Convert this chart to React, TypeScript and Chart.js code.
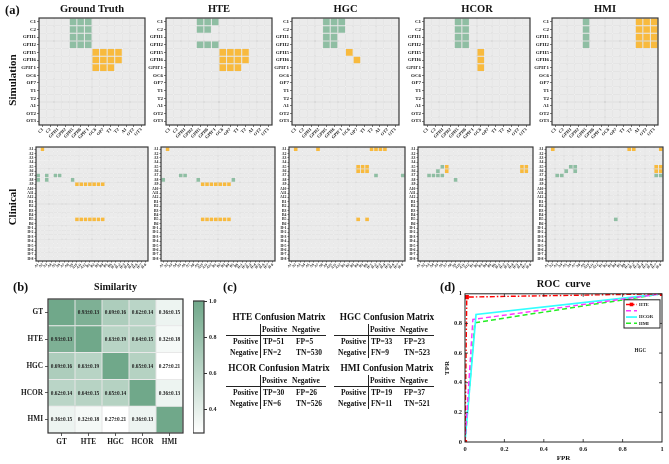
import React, { useEffect, useRef } from 'react';
import { Chart, registerables } from 'chart.js';

Chart.register(...registerables);

const SERIF = "'Liberation Serif', 'Times New Roman', Times, serif";
Chart.defaults.font.family = SERIF;
(Chart.defaults.font as any).weight = 'bold';
Chart.defaults.color = '#1a1a1a';

// ---------------- data ----------------
const HEAT_TITLES = ['Ground Truth', 'HTE', 'HGC', 'HCOR', 'HMI'];

const SIM_AXIS = ['C1', 'C2', 'GPH1', 'GPH2', 'GPH5', 'GPH6', "GPH'1", 'OC6', 'OP7', 'T1', 'T2', 'A1', 'OT2', 'OT3'];
const CLIN_AXIS = [
  'A1', 'A2', 'A3', 'A4', 'A5', 'A6', 'A7', 'A8', 'A9', 'A10', 'A11', 'A12',
  'B1', 'B2', 'B3', 'B4', 'B5', 'B6',
  'H-1', 'H-2', 'H-3', 'H-4', 'H-5', 'H-6', 'H-7', 'H-8',
];

// runs of marked cells: [row, firstCol, lastCol, kind]  (g = green edge, o = orange edge)
const SIM_GT_RUNS = [[0, 4, 6, 'g'], [1, 4, 6, 'g'], [2, 4, 6, 'g'], [3, 4, 6, 'g'], [4, 7, 10, 'o'], [5, 7, 10, 'o'], [6, 7, 9, 'o']];
const SIM_HTE_RUNS = [[0, 4, 6, 'g'], [1, 4, 5, 'g'], [3, 4, 6, 'g'], [4, 7, 10, 'o'], [5, 7, 10, 'o'], [6, 7, 9, 'o']];
const SIM_HGC_RUNS = [[0, 4, 6, 'g'], [1, 4, 6, 'g'], [2, 4, 5, 'g'], [3, 4, 5, 'g'], [4, 7, 7, 'o'], [5, 8, 8, 'o']];
const SIM_HCOR_RUNS = [[0, 4, 5, 'g'], [1, 4, 5, 'g'], [2, 4, 5, 'g'], [3, 4, 5, 'g'], [4, 7, 7, 'o'], [5, 7, 7, 'o'], [6, 7, 7, 'o']];
const SIM_HMI_RUNS = [[0, 4, 4, 'g'], [1, 4, 4, 'g'], [2, 4, 4, 'g'], [3, 4, 4, 'g'], [0, 11, 13, 'o'], [1, 11, 13, 'o'], [2, 11, 13, 'o'], [3, 11, 13, 'o']];

const CLIN_GT_RUNS = [[0, 1, 1, 'o'], [6, 0, 0, 'g'], [7, 0, 0, 'g'], [6, 2, 2, 'g'], [7, 2, 2, 'g'], [6, 4, 5, 'g'], [7, 8, 8, 'g'], [8, 9, 15, 'o'], [16, 9, 15, 'o']];
const CLIN_HTE_RUNS = [[0, 1, 1, 'o'], [6, 4, 5, 'g'], [7, 0, 0, 'g'], [7, 8, 8, 'g'], [7, 16, 16, 'g'], [8, 9, 15, 'o'], [16, 9, 15, 'o']];
const CLIN_HGC_RUNS = [[0, 1, 1, 'o'], [0, 6, 6, 'o'], [0, 18, 21, 'o'], [4, 15, 17, 'o'], [5, 15, 17, 'o'], [6, 19, 19, 'g'], [6, 25, 25, 'g'], [16, 15, 15, 'o'], [16, 17, 17, 'o']];
const CLIN_HCOR_RUNS = [[4, 5, 5, 'g'], [4, 6, 6, 'o'], [5, 4, 4, 'g'], [5, 6, 6, 'o'], [6, 2, 5, 'g'], [7, 8, 8, 'g'], [4, 23, 24, 'o'], [5, 23, 24, 'o']];
const CLIN_HMI_RUNS = [[0, 1, 1, 'o'], [0, 18, 19, 'o'], [0, 25, 25, 'o'], [4, 5, 6, 'g'], [5, 4, 4, 'g'], [5, 6, 6, 'g'], [6, 2, 3, 'g'], [4, 24, 25, 'o'], [5, 24, 25, 'o'], [6, 24, 25, 'g'], [16, 15, 15, 'g']];

const SIM_RUNS = [SIM_GT_RUNS, SIM_HTE_RUNS, SIM_HGC_RUNS, SIM_HCOR_RUNS, SIM_HMI_RUNS];
const CLIN_RUNS = [CLIN_GT_RUNS, CLIN_HTE_RUNS, CLIN_HGC_RUNS, CLIN_HCOR_RUNS, CLIN_HMI_RUNS];

const SIM_NAMES = ['GT', 'HTE', 'HGC', 'HCOR', 'HMI'];
const SIM_MEAN = [
  [1.0, 0.93, 0.69, 0.62, 0.36],
  [0.93, 1.0, 0.63, 0.64, 0.32],
  [0.69, 0.63, 1.0, 0.65, 0.27],
  [0.62, 0.64, 0.65, 1.0, 0.36],
  [0.36, 0.32, 0.27, 0.36, 1.0],
];
const SIM_STD = [
  [0, 0.13, 0.16, 0.14, 0.15],
  [0.13, 0, 0.19, 0.15, 0.18],
  [0.16, 0.19, 0, 0.14, 0.21],
  [0.14, 0.15, 0.14, 0, 0.13],
  [0.15, 0.18, 0.21, 0.13, 0],
];
const CB_MIN = 0.27;
const CB_MAX = 1.0;
const CB_TICKS = [0.4, 0.6, 0.8, 1.0];

const CM_NAMES = ['HTE', 'HGC', 'HCOR', 'HMI'];
const CM_TP = [51, 33, 30, 19];
const CM_FP = [5, 23, 26, 37];
const CM_FN = [2, 9, 6, 11];
const CM_TN = [530, 523, 526, 521];

const ROC_LABELS = ['HTE', 'HGC', 'HCOR', 'HMI'];
const ROC_HTE_FPR = [0, 0.009, 1];
const ROC_HTE_TPR = [0, 0.978, 1];
const ROC_HGC_FPR = [0, 0.04, 1];
const ROC_HGC_TPR = [0, 0.827, 1];
const ROC_HCOR_FPR = [0, 0.056, 1];
const ROC_HCOR_TPR = [0, 0.861, 1];
const ROC_HMI_FPR = [0, 0.05, 1];
const ROC_HMI_TPR = [0, 0.805, 1];
const ROC_TICKS = [0, 0.2, 0.4, 0.6, 0.8, 1];

// ---------------- styling helpers ----------------
const CELL_FILL: Record<string, string> = { '.': '#ebebeb', g: '#8fbea3', o: '#f8ba3e' };
const CELL_LINE = '#c2c2c2';

function simColor(v: number) {
  const t = Math.max(0, Math.min(1, (v - CB_MIN) / (CB_MAX - CB_MIN)));
  const lo = [255, 255, 255];
  const hi = [112, 168, 138];
  const c = lo.map((l, i) => Math.round(l + (hi[i] - l) * t));
  return `rgb(${c[0]},${c[1]},${c[2]})`;
}

function expandRuns(runs: any[], n: number): string[][] {
  const g = Array.from({ length: n }, () => Array(n).fill('.'));
  runs.forEach(([r, c0, c1, k]: any) => {
    for (let c = c0; c <= c1; c++) g[r][c] = k;
  });
  return g;
}

function zeroPad(s: any) {
  s.paddingLeft = 0;
  s.paddingRight = 0;
  s.paddingTop = 0;
  s.paddingBottom = 0;
}

const framePlugin = {
  id: 'frame',
  afterDatasetsDraw(chart: any, _a: any, opts: any) {
    if (!opts || !opts.color) return;
    const { ctx, chartArea: a } = chart;
    ctx.save();
    ctx.strokeStyle = opts.color;
    ctx.lineWidth = opts.width || 1;
    ctx.setLineDash([]);
    ctx.strokeRect(a.left, a.top, a.right - a.left, a.bottom - a.top);
    if (opts.innerTicks) {
      const L = opts.innerTicks;
      ctx.lineWidth = 0.8;
      ctx.beginPath();
      const xs = chart.scales.x;
      const ys = chart.scales.y;
      xs.ticks.forEach((t: any) => {
        const p = xs.getPixelForValue(t.value);
        if (p <= a.left + 1 || p >= a.right - 1) return;
        ctx.moveTo(p, a.bottom);
        ctx.lineTo(p, a.bottom - L);
        ctx.moveTo(p, a.top);
        ctx.lineTo(p, a.top + L);
      });
      ys.ticks.forEach((t: any) => {
        const p = ys.getPixelForValue(t.value);
        if (p <= a.top + 1 || p >= a.bottom - 1) return;
        ctx.moveTo(a.left, p);
        ctx.lineTo(a.left + L, p);
        ctx.moveTo(a.right, p);
        ctx.lineTo(a.right - L, p);
      });
      ctx.stroke();
    }
    ctx.restore();
  },
};

const cellTextPlugin = {
  id: 'cellText',
  afterDatasetsDraw(chart: any, _a: any, opts: any) {
    if (!opts || !opts.texts) return;
    const ctx = chart.ctx;
    ctx.save();
    ctx.font = `bold ${opts.size}px ${SERIF}`;
    ctx.fillStyle = opts.color || '#222';
    ctx.textAlign = 'center';
    ctx.textBaseline = 'middle';
    chart.data.datasets.forEach((_d: any, di: number) => {
      const meta = chart.getDatasetMeta(di);
      meta.data.forEach((el: any, i: number) => {
        const t = opts.texts[di][i];
        if (t) ctx.fillText(t, el.x, (el.y + el.base) / 2 + 0.5);
      });
    });
    ctx.restore();
  },
};

const rocLegendPlugin = {
  id: 'rocLegend',
  afterDraw(chart: any, _a: any, opts: any) {
    if (!opts) return;
    const { ctx, chartArea: a } = chart;
    const ds = chart.data.datasets;
    const x0 = a.right - opts.width - opts.right;
    const y0 = a.top + opts.top;
    const h = opts.rowH * ds.length + opts.pad * 2;
    ctx.save();
    ctx.fillStyle = '#fff';
    ctx.fillRect(x0, y0, opts.width, h);
    ctx.strokeStyle = '#222';
    ctx.lineWidth = 1;
    ctx.strokeRect(x0, y0, opts.width, h);
    ctx.font = `bold ${opts.fontSize}px ${SERIF}`;
    ctx.textBaseline = 'middle';
    ds.forEach((d: any, i: number) => {
      const y = y0 + opts.pad + opts.rowH * (i + 0.5);
      ctx.strokeStyle = d.borderColor;
      ctx.lineWidth = d.borderWidth;
      ctx.setLineDash(d.borderDash || []);
      ctx.beginPath();
      ctx.moveTo(x0 + 2, y);
      ctx.lineTo(x0 + 13, y);
      ctx.stroke();
      ctx.setLineDash([]);
      if (d.pointRadius > 0) {
        ctx.fillStyle = d.pointBackgroundColor;
        ctx.fillRect(x0 + 7.5 - 1.8, y - 1.8, 3.6, 3.6);
      }
      ctx.fillStyle = '#222';
      ctx.textAlign = 'left';
      const lab = opts.hidden.includes(d.label) ? '' : d.label;
      ctx.fillText(lab, x0 + 15, y);
    });
    const f = opts.floating;
    if (f) {
      ctx.font = `bold ${f.size}px ${SERIF}`;
      ctx.textAlign = 'center';
      ctx.fillStyle = '#222';
      ctx.fillText(f.text, chart.scales.x.getPixelForValue(f.x), chart.scales.y.getPixelForValue(f.y));
    }
    ctx.restore();
  },
};

// ---------------- chart configs ----------------
function heatmapConfig(p: any) {
  const n = p.axis.length;
  const grid = expandRuns(p.runs, n);
  const datasets = p.axis.map((_: string, k: number) => {
    const r = n - 1 - k;
    return {
      label: p.axis[r],
      data: p.axis.map(() => 1),
      backgroundColor: grid[r].map((c: string) => CELL_FILL[c]),
      borderColor: CELL_LINE,
      borderWidth: p.bw,
      borderSkipped: false,
      inflateAmount: 0,
      barPercentage: 1,
      categoryPercentage: 1,
    };
  });
  const tickGrid = { display: true, drawOnChartArea: false, drawTicks: true, tickLength: p.tick, color: '#444', lineWidth: 0.7 };
  return {
    type: 'bar',
    data: { labels: p.axis, datasets },
    plugins: [framePlugin],
    options: {
      responsive: false,
      animation: false,
      events: [],
      layout: { padding: { top: p.padTop, right: p.R, left: 0, bottom: 0 }, autoPadding: false },
      plugins: {
        legend: { display: false },
        tooltip: { enabled: false },
        title: p.title
          ? { display: true, text: p.title, fullSize: false, color: '#111', font: { size: 10.5, weight: 'bold', lineHeight: 1.2 }, padding: { top: 3, bottom: 2.4 } }
          : { display: false },
        frame: { color: '#3a3a3a', width: 1.2 },
      },
      scales: {
        x: {
          type: 'category',
          stacked: true,
          offset: true,
          grid: { ...tickGrid, offset: false },
          border: { display: false },
          ticks: { autoSkip: false, minRotation: 45, maxRotation: 45, padding: 0, font: { size: p.xFont, weight: 'bold' } },
          afterFit: (s: any) => { s.height = p.B; zeroPad(s); },
        },
        y: {
          type: 'linear',
          stacked: true,
          min: 0,
          max: n,
          grid: tickGrid,
          border: { display: false },
          afterBuildTicks: (s: any) => { s.ticks = p.axis.map((_: any, i: number) => ({ value: i + 0.5 })); },
          ticks: { autoSkip: false, padding: 1, font: { size: p.yFont, weight: 'bold' }, callback: (v: number) => p.axis[n - 1 - Math.floor(v)] },
          afterFit: (s: any) => { s.width = p.L; zeroPad(s); },
        },
      },
    },
  };
}

function similarityConfig() {
  const n = SIM_NAMES.length;
  const texts: string[][] = [];
  const datasets = SIM_NAMES.map((_, k) => {
    const r = n - 1 - k;
    texts.push(SIM_MEAN[r].map((m, c) => (r === c ? '' : `${m.toFixed(2)}±${SIM_STD[r][c].toFixed(2)}`)));
    return {
      label: SIM_NAMES[r],
      data: SIM_NAMES.map(() => 1),
      backgroundColor: SIM_MEAN[r].map(simColor),
      borderColor: '#c9c9c9',
      borderWidth: 0.5,
      borderSkipped: false,
      inflateAmount: 0,
      barPercentage: 1,
      categoryPercentage: 1,
    };
  });
  const tickGrid = { display: true, drawOnChartArea: false, drawTicks: true, tickLength: 3, color: '#333', lineWidth: 0.8 };
  return {
    type: 'bar',
    data: { labels: SIM_NAMES, datasets },
    plugins: [framePlugin, cellTextPlugin],
    options: {
      responsive: false,
      animation: false,
      events: [],
      layout: { padding: { top: 0, right: 3, left: 0, bottom: 0 }, autoPadding: false },
      plugins: {
        legend: { display: false },
        tooltip: { enabled: false },
        title: { display: true, text: 'Similarity', fullSize: false, color: '#111', font: { size: 10, weight: 'bold', lineHeight: 1.2 }, padding: { top: 3, bottom: 6 } },
        frame: { color: '#333', width: 1.2 },
        cellText: { texts, size: 5.3, color: '#222' },
      },
      scales: {
        x: {
          type: 'category',
          stacked: true,
          offset: true,
          grid: { ...tickGrid, offset: false },
          border: { display: false },
          ticks: { autoSkip: false, minRotation: 0, maxRotation: 0, padding: 1.5, font: { size: 7.3, weight: 'bold' } },
          afterFit: (s: any) => { s.height = 14; zeroPad(s); },
        },
        y: {
          type: 'linear',
          stacked: true,
          min: 0,
          max: n,
          grid: tickGrid,
          border: { display: false },
          afterBuildTicks: (s: any) => { s.ticks = SIM_NAMES.map((_, i) => ({ value: i + 0.5 })); },
          ticks: { autoSkip: false, padding: 2, font: { size: 7.3, weight: 'bold' }, callback: (v: number) => SIM_NAMES[n - 1 - Math.floor(v)] },
          afterFit: (s: any) => { s.width = 36; zeroPad(s); },
        },
      },
    },
  };
}

function colorbarConfig() {
  return {
    type: 'bar',
    data: {
      labels: [''],
      datasets: [{
        data: [[CB_MIN, CB_MAX]],
        backgroundColor: (c: any) => {
          const ch = c.chart;
          const ys = ch.scales && ch.scales.y;
          if (!ch.chartArea || !ys) return simColor(CB_MAX);
          const g = ch.ctx.createLinearGradient(0, ys.getPixelForValue(CB_MIN), 0, ys.getPixelForValue(CB_MAX));
          g.addColorStop(0, simColor(CB_MIN));
          g.addColorStop(1, simColor(CB_MAX));
          return g;
        },
        borderWidth: 0,
        inflateAmount: 0,
        barPercentage: 1,
        categoryPercentage: 1,
      }],
    },
    plugins: [framePlugin],
    options: {
      responsive: false,
      animation: false,
      events: [],
      layout: { padding: { top: 5, bottom: 5, left: 0, right: 0 }, autoPadding: false },
      plugins: { legend: { display: false }, tooltip: { enabled: false }, frame: { color: '#333', width: 1.2 } },
      scales: {
        x: { display: false },
        y: {
          position: 'right',
          min: CB_MIN,
          max: CB_MAX,
          afterBuildTicks: (s: any) => { s.ticks = CB_TICKS.map((v) => ({ value: v })); },
          ticks: { padding: 2, font: { size: 6, weight: 'bold' }, callback: (v: number) => v.toFixed(1) },
          grid: { display: true, drawOnChartArea: false, drawTicks: true, tickLength: 3, color: '#333' },
          border: { display: false },
          afterFit: (s: any) => { s.width = 20; zeroPad(s); },
        },
      },
    },
  };
}

function rocConfig() {
  const pts = (xs: number[], ys: number[]) => xs.map((x, i) => ({ x, y: ys[i] }));
  const base = { fill: false, tension: 0, pointRadius: 0, pointHoverRadius: 0 };
  return {
    type: 'line',
    data: {
      datasets: [
        { ...base, label: ROC_LABELS[0], data: pts(ROC_HTE_FPR, ROC_HTE_TPR), borderColor: '#ff0000', borderWidth: 1.4, borderDash: [5, 2, 1.5, 2], pointStyle: 'rect', pointRadius: 3, pointBackgroundColor: '#ff0000', pointBorderColor: '#ff0000', pointBorderWidth: 0 },
        { ...base, label: ROC_LABELS[1], data: pts(ROC_HGC_FPR, ROC_HGC_TPR), borderColor: '#ff33ff', borderWidth: 1.4, borderDash: [5, 3] },
        { ...base, label: ROC_LABELS[2], data: pts(ROC_HCOR_FPR, ROC_HCOR_TPR), borderColor: '#33ffff', borderWidth: 1.7 },
        { ...base, label: ROC_LABELS[3], data: pts(ROC_HMI_FPR, ROC_HMI_TPR), borderColor: '#22ee22', borderWidth: 1.5, borderDash: [5, 3] },
      ],
    },
    plugins: [framePlugin, rocLegendPlugin],
    options: {
      responsive: false,
      animation: false,
      events: [],
      layout: { padding: { top: 0, right: 6, left: 0, bottom: 0 }, autoPadding: false },
      plugins: {
        legend: { display: false },
        tooltip: { enabled: false },
        title: { display: true, text: 'ROC  curve', fullSize: false, color: '#111', font: { size: 10.5, weight: 'bold', lineHeight: 1.2 }, padding: { top: 2.4, bottom: 2.8 } },
        frame: { color: '#222', width: 1, innerTicks: 3 },
        rocLegend: { width: 36, rowH: 6.3, pad: 1.5, right: 2, top: 6, fontSize: 4.7, hidden: ['HGC'], floating: { text: 'HGC', x: 0.89, y: 0.617, size: 5.1 } },
      },
      scales: {
        x: {
          type: 'linear',
          min: 0,
          max: 1,
          afterBuildTicks: (s: any) => { s.ticks = ROC_TICKS.map((v) => ({ value: v })); },
          ticks: { padding: 3, maxRotation: 0, font: { size: 6.5, weight: 'bold' }, callback: (v: number) => String(v) },
          grid: { display: false, drawTicks: false },
          border: { display: false },
          title: { display: true, text: 'FPR', color: '#111', font: { size: 7, weight: 'bold', lineHeight: 1.2 }, padding: { top: 0, bottom: 2 } },
          afterFit: (s: any) => { s.height = 22; zeroPad(s); },
        },
        y: {
          type: 'linear',
          min: 0,
          max: 1,
          afterBuildTicks: (s: any) => { s.ticks = ROC_TICKS.map((v) => ({ value: v })); },
          ticks: { padding: 3, font: { size: 6.5, weight: 'bold' }, callback: (v: number) => String(v) },
          grid: { display: false, drawTicks: false },
          border: { display: false },
          title: { display: true, text: 'TPR', color: '#111', font: { size: 7, weight: 'bold', lineHeight: 1.2 }, padding: { top: 2, bottom: 0 } },
          afterFit: (s: any) => { s.width = 24; zeroPad(s); },
        },
      },
    },
  };
}

// ---------------- components ----------------
type Geo = { left: number; top: number; width: number; height: number };

function ChartBox({ geo, make }: { geo: Geo; make: () => any }) {
  const ref = useRef<HTMLCanvasElement>(null);
  useEffect(() => {
    const chart = new Chart(ref.current as HTMLCanvasElement, make());
    return () => chart.destroy();
  }, []);
  return (
    <canvas
      ref={ref}
      width={geo.width}
      height={geo.height}
      style={{ position: 'absolute', left: geo.left, top: geo.top, width: geo.width, height: geo.height, display: 'block' }}
    />
  );
}

function Txt({ x, y, s, a = 'left', rot = 0, children }: any) {
  const tx = a === 'left' ? '0' : a === 'center' ? '-50%' : '-100%';
  return (
    <div
      style={{
        position: 'absolute', left: x, top: y, fontFamily: SERIF, fontWeight: 'bold', fontSize: s,
        lineHeight: 1, whiteSpace: 'pre', color: '#111',
        transform: `translate(${tx}, -50%)${rot ? ` rotate(${rot}deg)` : ''}`,
      }}
    >
      {children}
    </div>
  );
}

function Line({ x, y, w, h }: any) {
  return <div style={{ position: 'absolute', left: x, top: y, width: w, height: h, background: '#222' }} />;
}

function CMTable({ x0, y0, i }: any) {
  return (
    <>
      <Txt x={x0 + 54} y={y0 + 6} s={9.3} a="center">{CM_NAMES[i]} Confusion Matrix</Txt>
      <Txt x={x0 + 37} y={y0 + 18} s={7.5}>Positive</Txt>
      <Txt x={x0 + 67} y={y0 + 18} s={7.5}>Negative</Txt>
      <Line x={x0 + 1} y={y0 + 22.5} w={100} h={1.2} />
      <Line x={x0 + 34.5} y={y0 + 12} w={1.2} h={34} />
      <Txt x={x0 + 33} y={y0 + 30} s={7.5} a="right">Positive</Txt>
      <Txt x={x0 + 38} y={y0 + 30} s={7.5}>TP={CM_TP[i]}</Txt>
      <Txt x={x0 + 71} y={y0 + 30} s={7.5}>FP={CM_FP[i]}</Txt>
      <Txt x={x0 + 33} y={y0 + 41} s={7.5} a="right">Negative</Txt>
      <Txt x={x0 + 38} y={y0 + 41} s={7.5}>FN={CM_FN[i]}</Txt>
      <Txt x={x0 + 71} y={y0 + 41} s={7.5}>TN={CM_TN[i]}</Txt>
    </>
  );
}

const SIM_PLOTS = [{ x: 39, w: 106 }, { x: 166, w: 106 }, { x: 292, w: 107 }, { x: 424, w: 106 }, { x: 552, w: 106 }];
const CLIN_PLOTS = [{ x: 36, w: 112 }, { x: 161, w: 114 }, { x: 289, w: 116 }, { x: 418, w: 115 }, { x: 546, w: 117 }];

export default function App() {
  return (
    <div style={{ position: 'fixed', left: 0, top: 0, width: 669, height: 464, background: '#fff', overflow: 'hidden' }}>
      {SIM_PLOTS.map((p, i) => (
        <ChartBox
          key={'sim' + i}
          geo={{ left: p.x - 26, top: 0, width: p.w + 29, height: 141 }}
          make={() => heatmapConfig({ axis: SIM_AXIS, runs: SIM_RUNS[i], title: HEAT_TITLES[i], L: 26, R: 3, B: 16, padTop: 0, tick: 2, bw: 0.5, xFont: 4.5, yFont: 5 })}
        />
      ))}
      {CLIN_PLOTS.map((p, i) => (
        <ChartBox
          key={'clin' + i}
          geo={{ left: p.x - 20, top: 144, width: p.w + 23, height: 129 }}
          make={() => heatmapConfig({ axis: CLIN_AXIS, runs: CLIN_RUNS[i], title: '', L: 20, R: 3, B: 12, padTop: 3, tick: 1.5, bw: 0.4, xFont: 3.6, yFont: 3.8 })}
        />
      ))}
      <ChartBox geo={{ left: 12, top: 278, width: 174, height: 169 }} make={similarityConfig} />
      <ChartBox geo={{ left: 193, top: 296, width: 31, height: 142 }} make={colorbarConfig} />
      <ChartBox geo={{ left: 441, top: 276, width: 227, height: 188 }} make={rocConfig} />

      <Txt x={5} y={10} s={12.5}>(a)</Txt>
      <Txt x={12} y={80} s={11} a="center" rot={-90}>Simulation</Txt>
      <Txt x={12} y={207} s={11} a="center" rot={-90}>Clinical</Txt>
      <Txt x={13} y={287} s={12.5}>(b)</Txt>
      <Txt x={223} y={287} s={12.5}>(c)</Txt>
      <Txt x={440} y={287} s={12.5}>(d)</Txt>

      <CMTable x0={225} y0={312} i={0} />
      <CMTable x0={333} y0={312} i={1} />
      <CMTable x0={225} y0={363} i={2} />
      <CMTable x0={333} y0={363} i={3} />
    </div>
  );
}
